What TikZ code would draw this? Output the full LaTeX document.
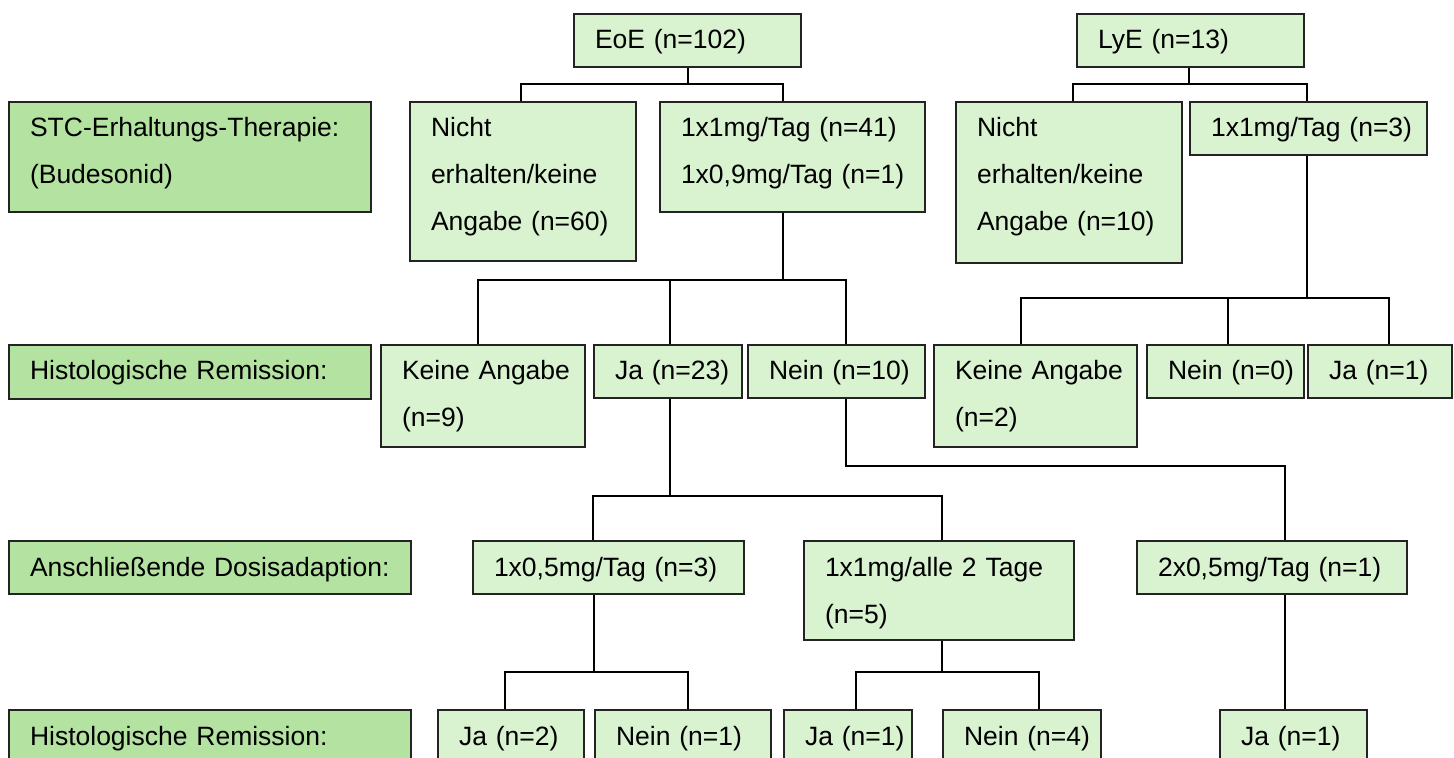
\documentclass[tikz,border=0pt]{standalone}
\usepackage{fontspec}
\setmainfont{Liberation Sans}
\definecolor{headgreen}{RGB}{180,227,161}
\definecolor{cellgreen}{RGB}{217,242,208}
\definecolor{edgegray}{RGB}{35,35,35}

% \cellbox{style}{name}{x1}{y1}{x2}{y2}{text}: box from corner (x1,y1) to (x2,y2),
% text set flush left with a fixed first baseline
\newcommand\cellbox[7]{%
  \pgfmathsetmacro\cbw{(#5-#3)*0.5}%
  \pgfmathsetmacro\cbh{(#6-#4)*0.5}%
  \pgfmathsetmacro\cbt{(#5-#3-42)*0.5}%
  \pgfmathsetmacro\cbd{(#6-#4-35)*0.5}%
  \node[#1, minimum width=\cbw pt, minimum height=\cbh pt,
        text width=\cbt pt, text depth=\cbd pt] (#2) at (#3,#4) {#7};}

\begin{document}
\begin{tikzpicture}[x=0.5pt, y=-0.5pt,
  cell/.style={draw=edgegray, line width=1pt, fill=cellgreen, anchor=north west,
    inner xsep=10.5pt, inner ysep=0pt, align=left,
    font=\fontsize{13.25}{23.5}\selectfont, text height=17.5pt},
  head/.style={cell, fill=headgreen},
  conn/.style={draw=black, line width=1pt}]
\useasboundingbox (0,0) rectangle (1454,758);

% row headings
\cellbox{head}{lstc}{8}{101}{370}{211}{STC-Erhaltungs-Therapie:\\(Budesonid)}
\cellbox{head}{lhra}{8}{344}{370}{398}{Histologische~Remission:}
\cellbox{head}{ldos}{8}{540}{410}{593}{Anschließende~Dosisadaption:}
\cellbox{head}{lhrb}{8}{709}{410}{762}{Histologische~Remission:}

% groups
\cellbox{cell}{eoe}{573}{13}{800}{66}{EoE~(n=102)}
\cellbox{cell}{lye}{1076}{13}{1303}{66}{LyE~(n=13)}

% maintenance therapy
\cellbox{cell}{enicht}{409}{101}{635}{260}{Nicht\\erhalten/keine\\Angabe~(n=60)}
\cellbox{cell}{eone}{659}{101}{924}{211}{1x1mg/Tag~(n=41)\\1x0,9mg/Tag~(n=1)}
\cellbox{cell}{lnicht}{955}{101}{1181}{262}{Nicht\\erhalten/keine\\Angabe~(n=10)}
\cellbox{cell}{lone}{1189}{101}{1426}{154}{1x1mg/Tag~(n=3)}

% histological remission
\cellbox{cell}{ekein}{380}{344}{584}{446}{Keine~Angabe\\(n=9)}
\cellbox{cell}{eja}{593}{344}{741}{397}{Ja~(n=23)}
\cellbox{cell}{enein}{747}{344}{924}{397}{Nein~(n=10)}
\cellbox{cell}{lkein}{933}{344}{1136}{446}{Keine~Angabe\\(n=2)}
\cellbox{cell}{lnein}{1146}{344}{1303}{397}{Nein~(n=0)}
\cellbox{cell}{lja}{1307}{344}{1451}{397}{Ja~(n=1)}

% dose adaption
\cellbox{cell}{dhalf}{472}{540}{743}{593}{1x0,5mg/Tag~(n=3)}
\cellbox{cell}{dalle}{803}{540}{1073}{639}{1x1mg/alle~2~Tage\\(n=5)}
\cellbox{cell}{dtwo}{1136}{540}{1406}{593}{2x0,5mg/Tag~(n=1)}

% remission after adaption
\cellbox{cell}{ra}{437}{709}{583}{762}{Ja~(n=2)}
\cellbox{cell}{rb}{594}{709}{770}{762}{Nein~(n=1)}
\cellbox{cell}{rc}{783}{709}{911}{762}{Ja~(n=1)}
\cellbox{cell}{rd}{942}{709}{1100}{762}{Nein~(n=4)}
\cellbox{cell}{re}{1219}{709}{1366}{762}{Ja~(n=1)}

% junction points of the tree
\coordinate (bA) at (688,84);
\coordinate (bB) at (1189,84);
\coordinate (bC) at (783,280);
\coordinate (bD) at (1307,298);
\coordinate (bE) at (670,496);
\coordinate (bF) at (594,672);
\coordinate (bG) at (942,672);

\draw[conn] (eoe.south -| bA) -- (bA);
\draw[conn] (enicht.north -| 521,0) |- (bA) -| (eone.north -| 783,0);

\draw[conn] (lye.south -| bB) -- (bB);
\draw[conn] (lnicht.north -| 1073,0) |- (bB) -| (lone.north -| 1307,0);

\draw[conn] (eone.south -| bC) -- (bC);
\draw[conn] (ekein.north -| 478,0) |- (bC) -| (enein.north -| 846,0);
\draw[conn] (eja.north -| 670,0) -- (bC -| 670,0);

\draw[conn] (lone.south -| bD) -- (bD);
\draw[conn] (lkein.north -| 1021,0) |- (bD) -| (lja.north -| 1389,0);
\draw[conn] (lnein.north -| 1228,0) -- (bD -| 1228,0);

\draw[conn] (eja.south -| bE) -- (bE);
\draw[conn] (dhalf.north -| 593,0) |- (bE) -| (dalle.north -| 942,0);

\draw[conn] (enein.south -| 846,0) -- (846,466) -| (dtwo.north -| 1285,0);

\draw[conn] (dhalf.south -| bF) -- (bF);
\draw[conn] (ra.north -| 505,0) |- (bF) -| (rb.north -| 688,0);

\draw[conn] (dalle.south -| bG) -- (bG);
\draw[conn] (rc.north -| 856,0) |- (bG) -| (rd.north -| 1039,0);

\draw[conn] (dtwo.south -| 1285,0) -- (re.north -| 1285,0);
\end{tikzpicture}
\end{document}
